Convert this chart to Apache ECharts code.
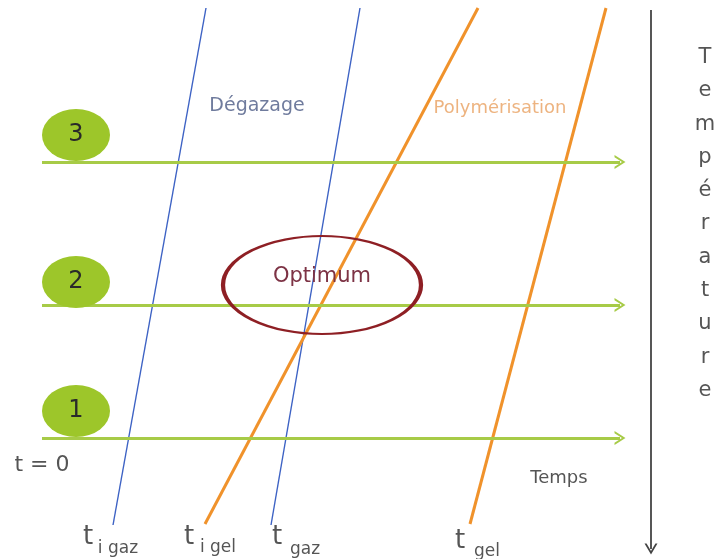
<!DOCTYPE html>
<html><head><meta charset="utf-8">
<script src="https://cdn.jsdelivr.net/npm/echarts@6/dist/echarts.min.js"></script>
<style>html,body{margin:0;padding:0;background:#fff}#c{width:722px;height:559px}</style>
</head><body><div id="c"></div>
<script>
// Diagram coordinates (x: time, y: temperature downward)
const degazageLines = [ [[206, 8], [113, 525]], [[360, 8], [271, 525]] ];
const polymerLines  = [ [[478, 8], [205, 524]], [[606, 8], [470, 524]] ];
const levelLabels = ['3', '2', '1'];
const levelY = [162, 305, 438];
const levelStartX = 42, levelEndX = 620;
const bubbleX = 76;
const bubbleY = [135, 282, 411];
const optimumCenter = [322, 285];
const tempAxisX = 651, tempAxisTop = 10, tempAxisBottom = 549;
const tLabels = [
  {main: 't', sub: 'i gaz', x: 88, y: 537, sx: 118, sy: 549},
  {main: 't', sub: 'i gel', x: 189, y: 537, sx: 218, sy: 548},
  {main: 't', sub: 'gaz',   x: 277, y: 537, sx: 305, sy: 550},
  {main: 't', sub: 'gel',   x: 460, y: 541, sx: 487, sy: 552}
];

const FONT = '"DejaVu Sans", sans-serif';
const chev = 'path://M0,10 L5,0 L10,10 L8.4,10 L5,3.2 L1.6,10 Z';
const series = [];
degazageLines.forEach(l => series.push({type:'line', data:l, symbol:'none', silent:true,
  lineStyle:{color:'#3d62c4', width:1.4}, z:3}));
polymerLines.forEach(l => series.push({type:'line', data:l, symbol:'none', silent:true,
  lineStyle:{color:'#f0922b', width:3}, z:4}));
series.push({type:'line', data:[], silent:true,
  markLine:{silent:true, symbol:['none', chev], symbolSize:[14,11], label:{show:false},
    lineStyle:{color:'#a7cb47', width:3, type:'solid'},
    data: levelY.map(y => [{coord:[levelStartX, y]}, {coord:[levelEndX, y]}])}, z:2});
series.push({type:'line', data:[], silent:true,
  markLine:{silent:true, symbol:['none', chev], symbolSize:[13,11], label:{show:false},
    lineStyle:{color:'#444', width:1.8, type:'solid'},
    data: [[{coord:[tempAxisX, tempAxisTop]}, {coord:[tempAxisX, tempAxisBottom]}]]}});
series.push({type:'scatter', silent:true, symbol:'circle', symbolSize:[68,52],
  itemStyle:{color:'#9dc62a', opacity:1},
  data: levelLabels.map((t,i)=>({value:[bubbleX, bubbleY[i]], name:t})),
  label:{show:true, position:'inside', formatter:'{b}', color:'#2a2a2a', fontSize:24, fontFamily:FONT}, z:5});
series.push({type:'scatter', silent:true, symbol:'circle', symbolSize:[198,98],
  itemStyle:{color:'rgba(0,0,0,0)', borderColor:'#8e1f24', borderWidth:3, opacity:1},
  data:[{value:optimumCenter, name:'Optimum'}],
  label:{show:true, position:'inside', offset:[0,-8], formatter:'{b}', color:'#7d3345', fontSize:21, fontFamily:FONT}, z:6});
function txt(items, style){
  series.push({type:'scatter', silent:true, symbolSize:0, data:items.map(d=>({value:[d[1],d[2]], name:d[0]})),
    label:Object.assign({show:true, position:'inside', formatter:'{b}', fontFamily:FONT}, style), z:7});
}
txt([['Dégazage', 257, 106]], {color:'#4b5a85', fontSize:19});
txt([['Polymérisation', 500, 108]], {color:'#e8a060', fontSize:18});
txt([['t = 0', 42, 465]], {color:'#2a2a2a', fontSize:22});
txt([['Temps', 559, 478]], {color:'#2a2a2a', fontSize:18});
txt([['Température'.split('').join('\n'), 705, 224]], {color:'#2a2a2a', fontSize:21, lineHeight:33.3});
txt(tLabels.map(d=>[d.main, d.x, d.y]), {color:'#2a2a2a', fontSize:26});
txt(tLabels.map(d=>[d.sub, d.sx, d.sy]), {color:'#2a2a2a', fontSize:17});

const chart = echarts.init(document.getElementById('c'));
chart.setOption({
  animation:false,
  grid:{left:0, right:0, top:0, bottom:0},
  xAxis:{type:'value', min:0, max:722, show:false},
  yAxis:{type:'value', min:0, max:559, inverse:true, show:false},
  series
});
</script></body></html>
